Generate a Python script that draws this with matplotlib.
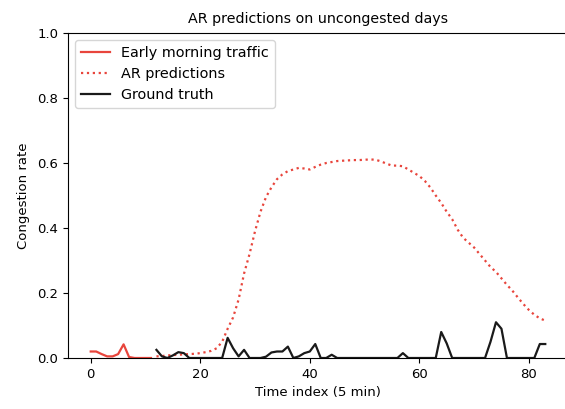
import numpy as np
import matplotlib
matplotlib.use("Agg")
import matplotlib.pyplot as plt

# Early morning traffic (t = 0..11)
early_t = list(range(0, 12))
early_v = [0.02, 0.02, 0.012, 0.005, 0.005, 0.012, 0.042, 0.003, 0.0, 0.0, 0.0, 0.0]

# AR predictions (t = 12..83)
ar_t = list(range(12, 84))
ar_v = [0.005, 0.006, 0.008, 0.009, 0.010, 0.011, 0.012, 0.013, 0.015, 0.018,
        0.022, 0.030, 0.050, 0.090, 0.125, 0.180, 0.260, 0.320, 0.390, 0.450,
        0.495, 0.525, 0.550, 0.565, 0.575, 0.580, 0.585, 0.583, 0.580, 0.588,
        0.595, 0.600, 0.603, 0.606, 0.607, 0.608, 0.609, 0.609, 0.610, 0.611,
        0.610, 0.605, 0.598, 0.592, 0.592, 0.590, 0.580, 0.570, 0.560, 0.545,
        0.525, 0.500, 0.477, 0.450, 0.427, 0.395, 0.370, 0.355, 0.340, 0.320,
        0.300, 0.280, 0.265, 0.245, 0.225, 0.207, 0.186, 0.166, 0.148, 0.133,
        0.122, 0.115]

# Ground truth (t = 12..83)
gt_t = list(range(12, 84))
gt_v = [0.025, 0.005, 0.0, 0.008, 0.018, 0.015, 0.0, 0.0, 0.0, 0.0,
        0.0, 0.0, 0.0, 0.062, 0.030, 0.005, 0.025, 0.0, 0.0, 0.0,
        0.004, 0.017, 0.020, 0.020, 0.035, 0.0, 0.005, 0.015, 0.020, 0.043,
        0.0, 0.0, 0.010, 0.0, 0.0, 0.0, 0.0, 0.0, 0.0, 0.0,
        0.0, 0.0, 0.0, 0.0, 0.0, 0.015, 0.0, 0.0, 0.0, 0.0,
        0.0, 0.0, 0.080, 0.045, 0.0, 0.0, 0.0, 0.0, 0.0, 0.0,
        0.0, 0.050, 0.110, 0.090, 0.0, 0.0, 0.0, 0.0, 0.0, 0.0,
        0.043, 0.043]

xticks = [0, 20, 40, 60, 80]
yticks = [0.0, 0.2, 0.4, 0.6, 0.8, 1.0]

red = '#e8453c'

fig = plt.figure(figsize=(5.65, 4.09), dpi=100)
ax = fig.add_axes([68/565, 51/409, 500/565, 325/409])

ax.plot(early_t, early_v, color=red, lw=1.6, label='Early morning traffic')
ax.plot(ar_t, ar_v, color=red, lw=1.6, ls=':', label='AR predictions')
ax.plot(gt_t, gt_v, color='#1a1a1a', lw=1.6, label='Ground truth')

ax.set_ylim(0, 1.0)
ax.set_xlim(-4.15, 87.15)
ax.set_xticks(xticks)
ax.set_yticks(yticks)
ax.set_yticklabels([f'{v:.1f}' for v in yticks])
ax.tick_params(labelsize=9.5)
ax.spines['right'].set_visible(False)
ax.set_xlabel('Time index (5 min)', fontsize=9.5)
ax.set_ylabel('Congestion rate', fontsize=9.5, labelpad=5)
ax.set_title('AR predictions on uncongested days', fontsize=10.3, pad=7)
ax.legend(loc='upper left', fontsize=10.4)

fig.savefig('out.png', dpi=100)
